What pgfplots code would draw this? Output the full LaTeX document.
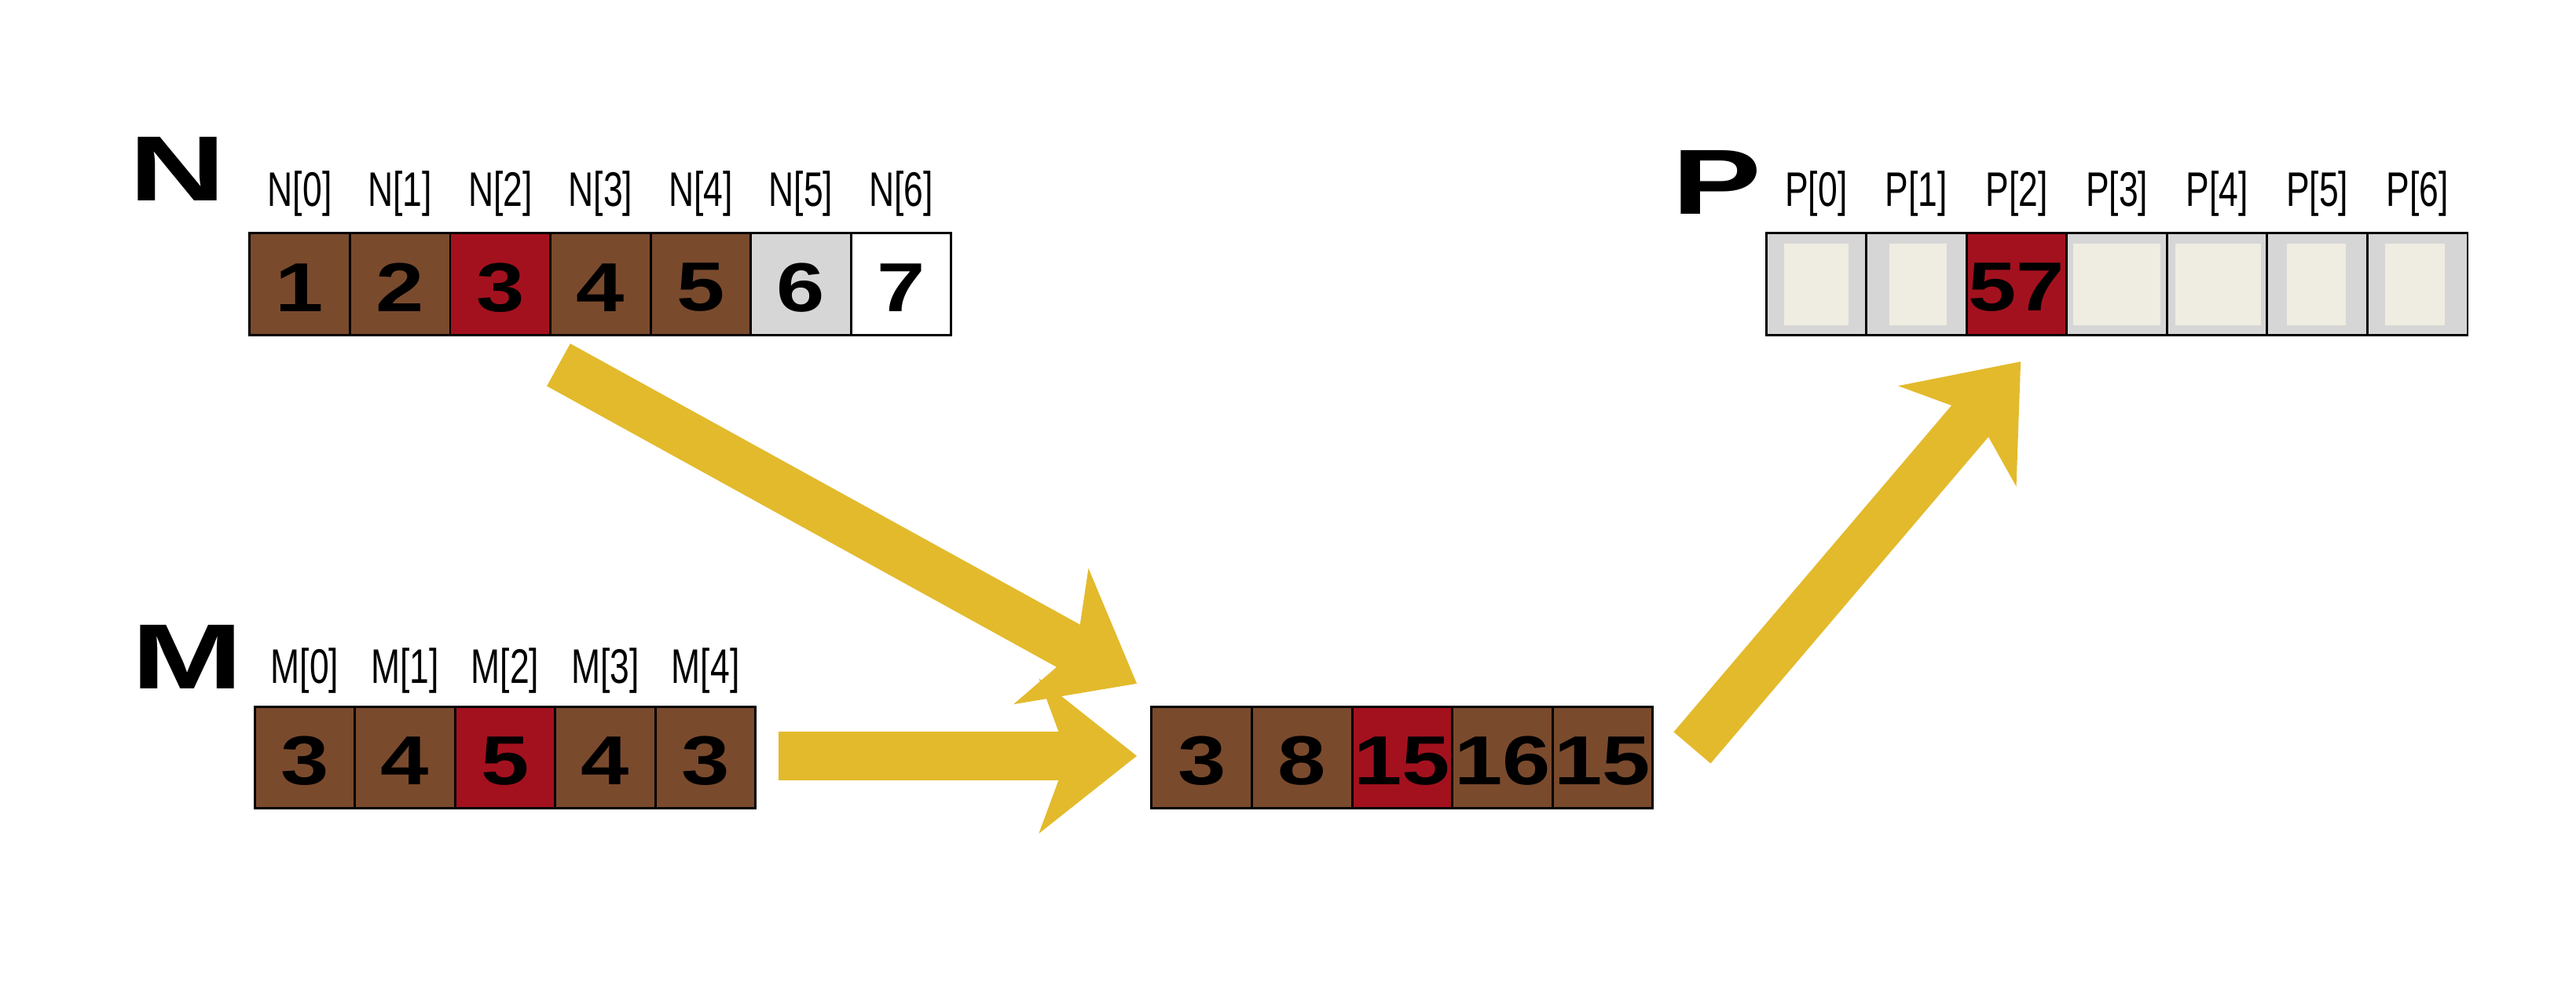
\documentclass[border=0pt]{standalone}
\usepackage{pgfplots}
\pgfplotsset{compat=1.18}
\usepackage{fontspec}
\setmainfont{Liberation Sans}
\usetikzlibrary{arrows.meta}
\definecolor{brn}{HTML}{7A4A2D}
\definecolor{rd}{HTML}{A3111E}
\definecolor{gr}{HTML}{D6D6D6}
\definecolor{cr}{HTML}{EFECE1}
\definecolor{yl}{HTML}{E3BA2C}
\newcommand\cell[4]{%
 \draw[fill=#3,line width=1pt] (axis cs:#1,#2) rectangle (axis cs:#1+61,#2+62);
 \node[font=\fontsize{30}{30}\selectfont\bfseries,xscale=1.25] at (axis cs:#1+30.5,#2+33) {#4};}
\newcommand\pcell[3]{%
 \draw[fill=#3,line width=1pt] (axis cs:#1,#2) rectangle (axis cs:#1+61,#2+62);}
\newcommand\lab[3]{\node[font=\fontsize{21}{21}\selectfont,xscale=0.72] at (axis cs:#1+30.5,#2) {#3};}
\begin{document}
\begin{tikzpicture}
\begin{axis}[scale only axis,width=392mm,height=151.75mm,xmin=0,xmax=1568,ymin=0,ymax=607,
 y dir=reverse,hide axis,clip=false,enlargelimits=false]
\addplot[draw=none] coordinates {(0,0)};
\path[use as bounding box] (axis cs:0,0) rectangle (axis cs:1568,607);
% arrows
\draw[yl,line width=21pt,-{Stealth[length=42pt,width=66pt,inset=12pt]}] (axis cs:340,222) -- (axis cs:692,416);
\draw[yl,line width=21pt,-{Stealth[length=42pt,width=66pt,inset=12pt]}] (axis cs:474,460) -- (axis cs:692,460);
\draw[yl,line width=21pt,-{Stealth[length=42pt,width=66pt,inset=12pt]}] (axis cs:1030,455) -- (axis cs:1230,220);
% big letters
\node[font=\fontsize{40}{40}\selectfont\bfseries,xscale=1.45] at (axis cs:108,103) {N};
\node[font=\fontsize{40}{40}\selectfont\bfseries,xscale=1.45] at (axis cs:114,400) {M};
\node[font=\fontsize{40}{40}\selectfont\bfseries,xscale=1.45] at (axis cs:1045,111) {P};
% N
\cell{152}{142}{brn}{1}\cell{213}{142}{brn}{2}\cell{274}{142}{rd}{3}\cell{335}{142}{brn}{4}
\cell{396}{142}{brn}{5}\cell{457}{142}{gr}{6}\cell{518}{142}{white}{7}
\lab{152}{118}{N[0]}\lab{213}{118}{N[1]}\lab{274}{118}{N[2]}\lab{335}{118}{N[3]}
\lab{396}{118}{N[4]}\lab{457}{118}{N[5]}\lab{518}{118}{N[6]}
% M
\cell{155}{430}{brn}{3}\cell{216}{430}{brn}{4}\cell{277}{430}{rd}{5}\cell{338}{430}{brn}{4}\cell{399}{430}{brn}{3}
\lab{155}{408}{M[0]}\lab{216}{408}{M[1]}\lab{277}{408}{M[2]}\lab{338}{408}{M[3]}\lab{399}{408}{M[4]}
% middle
\cell{701}{430}{brn}{3}\cell{762}{430}{brn}{8}\cell{823}{430}{rd}{15}\cell{884}{430}{brn}{16}\cell{945}{430}{brn}{15}
% P
\pcell{1075}{142}{gr}\pcell{1136}{142}{gr}\cell{1197}{142}{rd}{57}\pcell{1258}{142}{gr}
\pcell{1319}{142}{gr}\pcell{1380}{142}{gr}\pcell{1441}{142}{gr}
\fill[cr] (axis cs:1086,148) rectangle (axis cs:1125,198);
\fill[cr] (axis cs:1150,148) rectangle (axis cs:1185,198);
\fill[cr] (axis cs:1262,148) rectangle (axis cs:1315,198);
\fill[cr] (axis cs:1324,148) rectangle (axis cs:1376,198);
\fill[cr] (axis cs:1392,148) rectangle (axis cs:1428,198);
\fill[cr] (axis cs:1452,148) rectangle (axis cs:1488,198);
\lab{1075}{118}{P[0]}\lab{1136}{118}{P[1]}\lab{1197}{118}{P[2]}\lab{1258}{118}{P[3]}
\lab{1319}{118}{P[4]}\lab{1380}{118}{P[5]}\lab{1441}{118}{P[6]}
\end{axis}
\end{tikzpicture}
\end{document}
